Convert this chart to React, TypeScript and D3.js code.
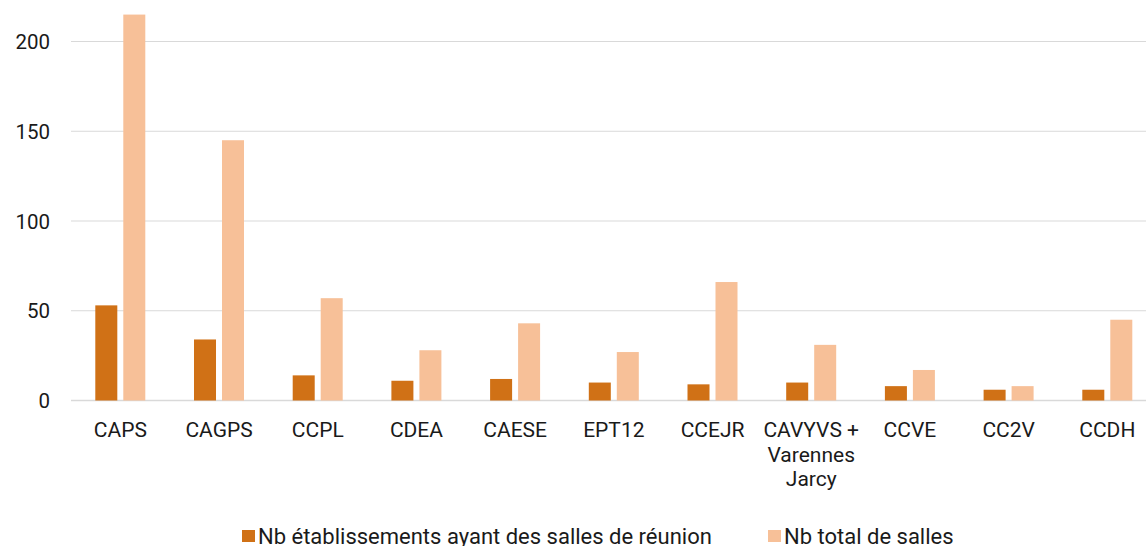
import React from 'react'
import * as d3 from 'd3'

const categories = ['CAPS', 'CAGPS', 'CCPL', 'CDEA', 'CAESE', 'EPT12', 'CCEJR', 'CAVYVS + Varennes Jarcy', 'CCVE', 'CC2V', 'CCDH']
const categoryLines = [['CAPS'], ['CAGPS'], ['CCPL'], ['CDEA'], ['CAESE'], ['EPT12'], ['CCEJR'], ['CAVYVS +', 'Varennes', 'Jarcy'], ['CCVE'], ['CC2V'], ['CCDH']]
const etablissements = [53, 34, 14, 11, 12, 10, 9, 10, 8, 6, 6]
const totalSalles = [215, 145, 57, 28, 43, 27, 66, 31, 17, 8, 45]
const seriesNames = ['Nb établissements ayant des salles de réunion', 'Nb total de salles']
const seriesColors = ['#D07116', '#F7C098']
const yTicks = [0, 50, 100, 150, 200]

const W = 1146
const H = 546
const LEFT = 71
const STEP = 98.7
const FONT = 'Roboto, "Noto Sans", sans-serif'

export default function App() {
  const svgRef = React.useRef<SVGSVGElement>(null)

  React.useEffect(() => {
    const svg = d3.select(svgRef.current!)
    svg.selectAll('*').remove()

    const x0 = d3.scaleBand<string>().domain(categories).range([LEFT, LEFT + STEP * categories.length]).padding(0)
    const x1 = d3.scaleBand<string>().domain(['a', 'b']).range([24.3, 74.3]).paddingInner(0.214)
    const y = d3.scaleLinear().domain([0, 200]).range([400.5, 41.5])

    // gridlines
    svg.append('g').selectAll('line').data(yTicks).enter().append('line')
      .attr('x1', LEFT).attr('x2', W)
      .attr('y1', d => y(d)).attr('y2', d => y(d))
      .attr('stroke', '#D9D9D9').attr('stroke-width', d => d === 0 ? 1.5 : 1.2)

    // y tick labels
    svg.append('g').selectAll('text').data(yTicks).enter().append('text')
      .attr('x', 50).attr('y', d => y(d) + 7.5)
      .attr('text-anchor', 'end')
      .attr('font-family', FONT).attr('font-size', 20.5).attr('fill', '#1a1a1a')
      .text(d => d)

    // bars
    const groups = svg.append('g').selectAll('g').data(categories).enter().append('g')
      .attr('transform', d => `translate(${x0(d)},0)`)
    groups.append('rect')
      .attr('x', x1('a')!).attr('width', x1.bandwidth())
      .attr('y', (_, i) => y(etablissements[i])).attr('height', (_, i) => y(0) - y(etablissements[i]))
      .attr('fill', seriesColors[0])
    groups.append('rect')
      .attr('x', x1('b')!).attr('width', x1.bandwidth())
      .attr('y', (_, i) => y(totalSalles[i])).attr('height', (_, i) => y(0) - y(totalSalles[i]))
      .attr('fill', seriesColors[1])

    // category labels
    groups.each(function (_, i) {
      const t = d3.select(this).append('text')
        .attr('text-anchor', 'middle')
        .attr('font-family', FONT).attr('font-size', 21).attr('fill', '#1a1a1a')
      categoryLines[i].forEach((ln, j) => {
        t.append('tspan').attr('x', x0.bandwidth() / 2).attr('y', 437 + j * 24.5).text(ln)
      })
    })

    // legend
    const legendX = [242, 768]
    const leg = svg.append('g').selectAll('g').data(seriesNames).enter().append('g')
      .attr('transform', (_, i) => `translate(${legendX[i]},0)`)
    leg.append('rect').attr('x', 0).attr('y', 530).attr('width', 13).attr('height', 12)
      .attr('fill', (_, i) => seriesColors[i])
    leg.append('text').attr('x', 16).attr('y', 544)
      .attr('font-family', FONT).attr('font-size', 22).attr('fill', '#1a1a1a')
      .text(d => d)
  }, [])

  return <svg ref={svgRef} width={W} height={H} style={{ display: 'block', position: 'absolute', left: 0, top: 0, background: '#fff' }} />
}
